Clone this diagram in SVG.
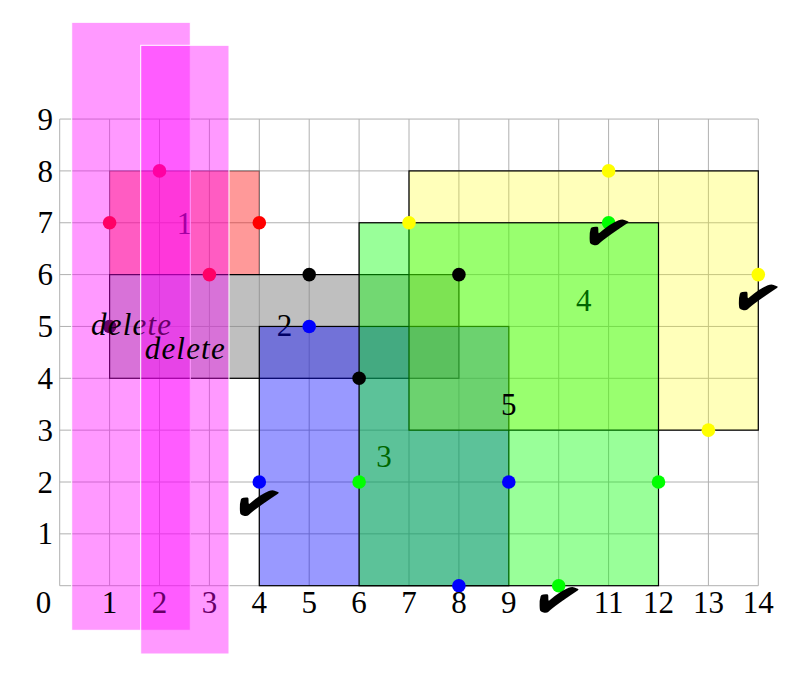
<svg xmlns="http://www.w3.org/2000/svg" width="795" height="675" viewBox="0 0 795 675">
<style>
.grid line{stroke:#b0b0b0;stroke-width:1}
.lbl{font-family:"Liberation Serif","DejaVu Serif",serif;font-size:31px;fill:#000}
.ax{text-anchor:end}
.axx{text-anchor:middle}
.num{text-anchor:middle}
.del{font-family:"Liberation Serif","DejaVu Serif",serif;font-style:italic;font-size:31px;text-anchor:middle;fill:#000}
.chk{font-family:"DejaVu Sans",sans-serif;font-size:56px;text-anchor:middle;dominant-baseline:central;fill:#000}
.strip{fill:#ff00ff;fill-opacity:0.4;stroke:#fff;stroke-width:1}
.r{stroke:#000;stroke-width:1.2}
</style>
<rect width="795" height="675" fill="#fff"/>
<g class="grid" id="grid">
<line x1="59.7" y1="119.05" x2="59.7" y2="585.7"/>
<line x1="109.6" y1="119.05" x2="109.6" y2="585.7"/>
<line x1="159.5" y1="119.05" x2="159.5" y2="585.7"/>
<line x1="209.4" y1="119.05" x2="209.4" y2="585.7"/>
<line x1="259.3" y1="119.05" x2="259.3" y2="585.7"/>
<line x1="309.2" y1="119.05" x2="309.2" y2="585.7"/>
<line x1="359.1" y1="119.05" x2="359.1" y2="585.7"/>
<line x1="409.0" y1="119.05" x2="409.0" y2="585.7"/>
<line x1="458.9" y1="119.05" x2="458.9" y2="585.7"/>
<line x1="508.8" y1="119.05" x2="508.8" y2="585.7"/>
<line x1="558.7" y1="119.05" x2="558.7" y2="585.7"/>
<line x1="608.6" y1="119.05" x2="608.6" y2="585.7"/>
<line x1="658.5" y1="119.05" x2="658.5" y2="585.7"/>
<line x1="708.4" y1="119.05" x2="708.4" y2="585.7"/>
<line x1="758.3" y1="119.05" x2="758.3" y2="585.7"/>
<line x1="59.7" y1="585.7" x2="758.3" y2="585.7"/>
<line x1="59.7" y1="533.85" x2="758.3" y2="533.85"/>
<line x1="59.7" y1="482.0" x2="758.3" y2="482.0"/>
<line x1="59.7" y1="430.15" x2="758.3" y2="430.15"/>
<line x1="59.7" y1="378.3" x2="758.3" y2="378.3"/>
<line x1="59.7" y1="326.45" x2="758.3" y2="326.45"/>
<line x1="59.7" y1="274.6" x2="758.3" y2="274.6"/>
<line x1="59.7" y1="222.75" x2="758.3" y2="222.75"/>
<line x1="59.7" y1="170.9" x2="758.3" y2="170.9"/>
<line x1="59.7" y1="119.05" x2="758.3" y2="119.05"/>
</g>
<g id="y-axis" class="lbl ax">
<text x="53" y="130">9</text>
<text x="53" y="181.5">8</text>
<text x="53" y="233.3">7</text>
<text x="53" y="285.2">6</text>
<text x="53" y="337">5</text>
<text x="53" y="388.9">4</text>
<text x="53" y="440.7">3</text>
<text x="53" y="492.6">2</text>
<text x="53" y="544.4">1</text>
</g>
<g id="rect1">
<rect x="109.6" y="170.9" width="149.7" height="103.7" fill="#ff0000" fill-opacity="0.4" stroke="#000" stroke-opacity="0.35" stroke-width="1.2"/>
<text class="lbl num" x="184.5" y="233.5">1</text>
</g>
<g id="rect2">
<rect class="r" x="109.6" y="274.6" width="349.3" height="103.7" fill="#808080" fill-opacity="0.5"/>
<text class="lbl num" x="284.5" y="336">2</text>
</g>
<g id="rect3">
<rect class="r" x="259.3" y="326.45" width="249.5" height="259.25" fill="#0000ff" fill-opacity="0.4"/>
<text class="lbl num" x="384" y="466.5">3</text>
</g>
<g id="rect4">
<rect class="r" x="409.0" y="170.9" width="349.3" height="259.25" fill="#ffff00" fill-opacity="0.27"/>
<text class="lbl num" x="583.7" y="311">4</text>
</g>
<g id="rect5">
<rect class="r" x="359.1" y="222.75" width="299.4" height="362.95" fill="#00ff00" fill-opacity="0.4"/>
<text class="lbl num" x="508.8" y="414.8">5</text>
</g>
<g id="dots">
<circle cx="109.6" cy="222.75" r="6.8" fill="#ff0000"/>
<circle cx="159.5" cy="170.9" r="6.8" fill="#ff0000"/>
<circle cx="209.4" cy="274.6" r="6.8" fill="#ff0000"/>
<circle cx="259.3" cy="222.75" r="6.8" fill="#ff0000"/>
<circle cx="309.2" cy="274.6" r="6.8" fill="#000"/>
<circle cx="458.9" cy="274.6" r="6.8" fill="#000"/>
<circle cx="359.1" cy="378.3" r="6.8" fill="#000"/>
<circle cx="109.6" cy="326.45" r="6.8" fill="#000"/>
<circle cx="309.2" cy="326.45" r="6.8" fill="#0000ff"/>
<circle cx="259.3" cy="482.0" r="6.8" fill="#0000ff"/>
<circle cx="508.8" cy="482.0" r="6.8" fill="#0000ff"/>
<circle cx="458.9" cy="585.7" r="6.8" fill="#0000ff"/>
<circle cx="409.0" cy="222.75" r="6.8" fill="#ffff00"/>
<circle cx="608.6" cy="170.9" r="6.8" fill="#ffff00"/>
<circle cx="758.3" cy="274.6" r="6.8" fill="#ffff00"/>
<circle cx="708.4" cy="430.15" r="6.8" fill="#ffff00"/>
<circle cx="608.6" cy="222.75" r="6.8" fill="#00ff00"/>
<circle cx="359.1" cy="482.0" r="6.8" fill="#00ff00"/>
<circle cx="658.5" cy="482.0" r="6.8" fill="#00ff00"/>
<circle cx="558.7" cy="585.7" r="6.8" fill="#00ff00"/>
</g>
<g id="checks" class="chk">
<text transform="translate(257.5,503.4) rotate(18) scale(1.0,1.1)">✔</text>
<text transform="translate(607.2,232.5) rotate(18) scale(1.0,1.1)">✔</text>
<text transform="translate(756.5,297.5) rotate(18) scale(1.0,1.1)">✔</text>
<text transform="translate(557.2,600) rotate(18) scale(1.0,1.1)">✔</text>
</g>
<g id="strip1">
<rect class="strip" x="71.7" y="22.3" width="118.6" height="608"/>
</g>
<g id="x-axis" class="lbl axx">
<text x="43.5" y="613.3">0</text>
<text x="109.6" y="613.3">1</text>
<text x="159.5" y="613.3">2</text>
<text x="209.4" y="613.3">3</text>
<text x="259.3" y="613.3">4</text>
<text x="309.2" y="613.3">5</text>
<text x="359.1" y="613.3">6</text>
<text x="409.0" y="613.3">7</text>
<text x="458.9" y="613.3">8</text>
<text x="508.8" y="613.3">9</text>
<text x="608.6" y="613.3">11</text>
<text x="658.5" y="613.3">12</text>
<text x="708.4" y="613.3">13</text>
<text x="758.3" y="613.3">14</text>
</g>
<g id="delete1">
<text class="del" x="131" y="335" textLength="80" lengthAdjust="spacing">delete</text>
</g>
<g id="strip2">
<rect class="strip" x="140.7" y="45.3" width="88.3" height="608.7"/>
</g>
<g id="delete2">
<text class="del" x="184.7" y="359.3" textLength="80" lengthAdjust="spacing">delete</text>
</g>
</svg>
